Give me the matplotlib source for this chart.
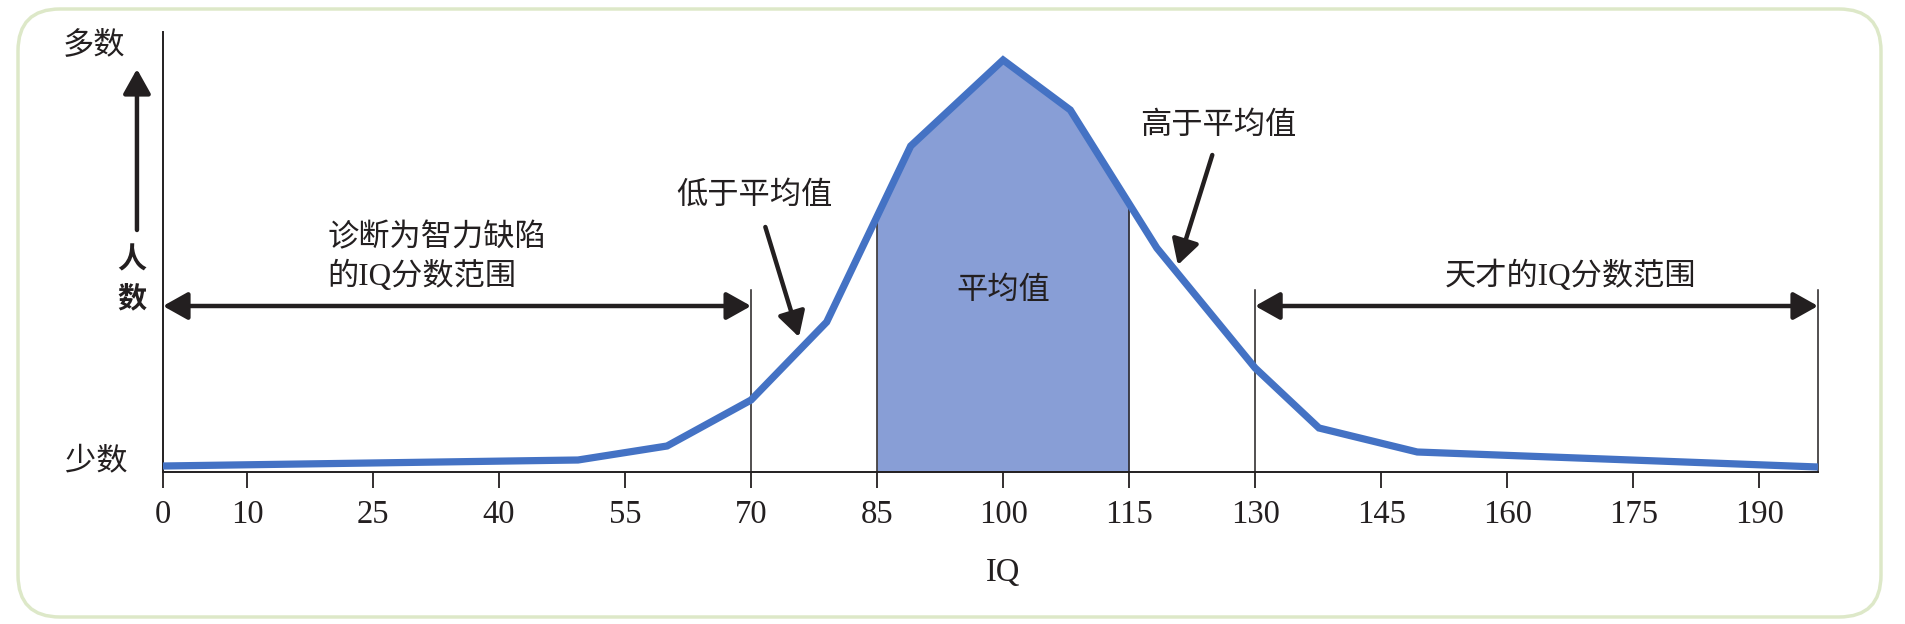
import numpy as np
import matplotlib
matplotlib.use("Agg")
import matplotlib.pyplot as plt
from matplotlib.patches import FancyBboxPatch

# ---- data (y in arbitrary "number of people" units) ----
iq_points = [0, 49.4, 60, 70, 79, 89, 100, 108, 118.3, 130, 137.6, 149.3, 197]
people = [6, 12, 26, 72, 150, 326, 412, 362, 224, 104, 44, 20, 5]
tick_values = [0, 10, 25, 40, 55, 70, 85, 100, 115, 130, 145, 160, 175, 190]
tick_labels = [str(v) for v in tick_values]
avg_range = [85, 115]
low_range = [0, 70]
high_range = [130, 197]
x_max = 197
y_max = 440

serif_cjk = ['Liberation Serif', 'Noto Sans CJK SC']
sans_cjk = ['Noto Sans CJK SC', 'DejaVu Sans']

plt.rcParams['font.family'] = serif_cjk

LINE = '#4472C4'
FILL = '#889ED6'
DARK = '#231F20'
BORDER = '#DDE8C8'
FS = 22.5

fig = plt.figure(figsize=(19.06, 6.24), dpi=100)
ax = fig.add_axes([163 / 1906, 1 - 472 / 624, (1818 - 163) / 1906, 440 / 624])
ax.set_xlim(0, x_max)
ax.set_ylim(0, y_max)

# rounded border
border = FancyBboxPatch((0.18, 0.07), 18.63, 6.08,
                        boxstyle="round,pad=0,rounding_size=0.42",
                        transform=fig.dpi_scale_trans, fc='none',
                        ec=BORDER, lw=2.5, zorder=0)
fig.patches.append(border)

x = np.array(iq_points, dtype=float)
y = np.array(people, dtype=float)

# shaded average region
xs = np.concatenate([[avg_range[0]], x[(x > avg_range[0]) & (x < avg_range[1])], [avg_range[1]]])
ys = np.interp(xs, x, y)
ax.fill_between(xs, 0, ys, color=FILL, lw=0, zorder=1)

# vertical boundary lines
for xv in avg_range:
    ax.plot([xv, xv], [0, np.interp(xv, x, y)], color=DARK, lw=1.1, zorder=2)
range_top = 182
for xv in [low_range[1], high_range[0], high_range[1]]:
    ax.plot([xv, xv], [0, range_top], color=DARK, lw=1.1, zorder=2, clip_on=False)

# distribution curve
ax.plot(x, y, color=LINE, lw=5.2, solid_joinstyle='miter', solid_capstyle='butt',
        zorder=3, clip_on=False)

# spines / ticks
for s in ['top', 'right']:
    ax.spines[s].set_visible(False)
for s in ['left', 'bottom']:
    ax.spines[s].set_linewidth(1.4)
    ax.spines[s].set_color(DARK)
ax.set_yticks([])
ax.set_xticks(tick_values)
ax.set_xticklabels(tick_labels, fontsize=23.5, family='Liberation Serif', color=DARK)
ax.tick_params(axis='x', direction='out', length=11.5, width=1.3, color=DARK, pad=8)
ax.set_xlabel('IQ', fontsize=23.5, family='Liberation Serif', color=DARK, va='center')
ax.xaxis.set_label_coords(100 / x_max, -101 / y_max)

# range double arrows
arrow_y = 166
arr = dict(arrowstyle='<|-|>,head_length=0.75,head_width=0.42', lw=3.2,
           color=DARK, mutation_scale=20, shrinkA=0, shrinkB=0)
ax.annotate('', xy=(low_range[0], arrow_y), xytext=(low_range[1], arrow_y),
            arrowprops=arr, annotation_clip=False)
ax.annotate('', xy=(high_range[0], arrow_y), xytext=(high_range[1], arrow_y),
            arrowprops=arr, annotation_clip=False)

# y-axis "people" arrow
arr1 = dict(arrowstyle='-|>,head_length=0.75,head_width=0.42', lw=3.2,
            color=DARK, mutation_scale=20, shrinkA=0, shrinkB=0)
ax.annotate('', xy=(-3.1, 403), xytext=(-3.1, 242), arrowprops=arr1,
            annotation_clip=False)

# pointer arrows
ax.annotate('', xy=(75.7, 135), xytext=(71.7, 245), arrowprops=arr1,
            annotation_clip=False)
ax.annotate('', xy=(120.8, 207), xytext=(124.9, 317), arrowprops=arr1,
            annotation_clip=False)

# texts
ax.text(-8.2, 426, '多数', fontsize=FS, ha='center', va='center', color=DARK, family=serif_cjk)
ax.text(-8.0, 10, '少数', fontsize=FS, ha='center', va='center', color=DARK, family=serif_cjk)
ax.text(-3.7, 213, '人', fontsize=21, ha='center', va='center', color=DARK,
        family=sans_cjk, fontweight='bold')
ax.text(-3.7, 174, '数', fontsize=21, ha='center', va='center', color=DARK,
        family=sans_cjk, fontweight='bold')
ax.text(19.6, 233, '诊断为智力缺陷', fontsize=FS, ha='left', va='center', color=DARK, family=serif_cjk)
ax.text(19.6, 196, '的IQ分数范围', fontsize=FS, ha='left', va='center', color=DARK, family=serif_cjk)
ax.text(167.5, 196, '天才的IQ分数范围', fontsize=FS, ha='center', va='center', color=DARK, family=serif_cjk)
ax.text(100, 181, '平均值', fontsize=FS, ha='center', va='center', color=DARK, family=serif_cjk, zorder=4)
ax.text(70.4, 277, '低于平均值', fontsize=FS, ha='center', va='center', color=DARK,
        family=sans_cjk, fontweight='medium')
ax.text(125.6, 347, '高于平均值', fontsize=FS, ha='center', va='center', color=DARK,
        family=sans_cjk, fontweight='medium')

fig.savefig('out.png', dpi=100)
